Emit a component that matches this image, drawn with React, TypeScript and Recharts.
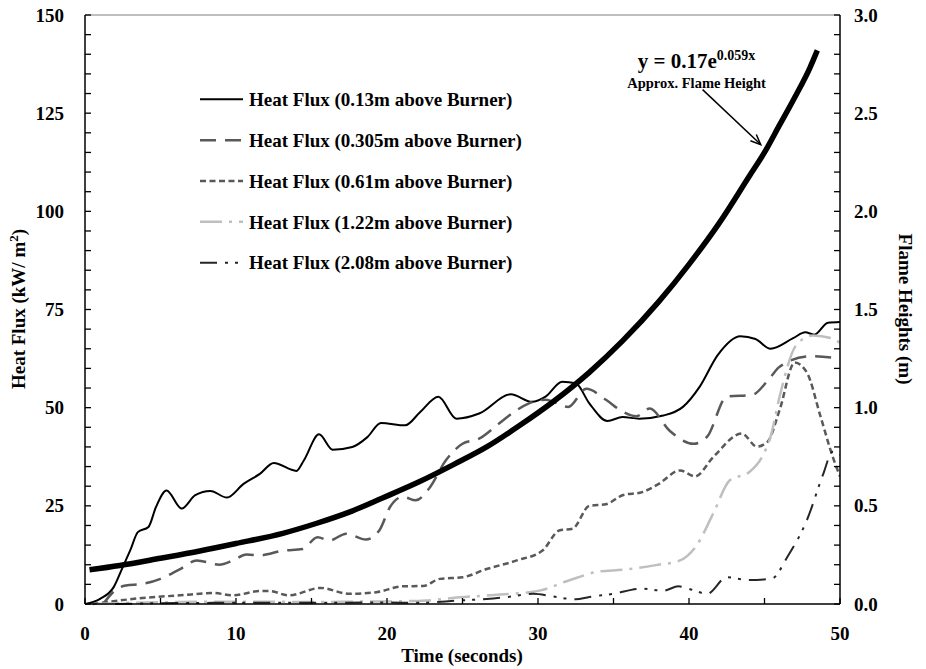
import React from "react";
import { ComposedChart, Line, XAxis, YAxis, ReferenceLine } from "recharts";

// time (s) / heat flux (kW/m2), one pair of arrays per gauge
const tSolid = [0, 1, 1.9, 2.5, 3, 3.5, 4.2, 4.7, 5.4, 6.4, 7.3, 8.3, 9.4, 10.5, 11.6, 12.5, 14, 14.5, 15.5, 16.4, 17.7, 18.7, 19.6, 21.2, 22.2, 23.4, 24.6, 26.1, 28.2, 29.6, 30.5, 31.6, 32.5, 33.4, 34.6, 35.6, 36.7, 38.3, 39.6, 40.7, 41.9, 43.4, 44.4, 45.4, 46.9, 47.7, 48.3, 49.2, 50];
const hf013 = [0, 1.3, 4.3, 9.4, 13.7, 18.3, 19.6, 24.7, 28.9, 24.3, 27.7, 28.8, 27.1, 30.6, 33.2, 35.9, 33.9, 36.6, 43.2, 39.3, 40.0, 42.5, 46.1, 45.5, 48.9, 52.8, 47.2, 48.5, 53.4, 51.5, 52.8, 56.6, 56.2, 51.1, 46.6, 47.6, 47.2, 48.0, 50.2, 55.3, 63.4, 68.2, 67.5, 65.0, 67.7, 69.2, 68.6, 71.6, 71.8];

const t305 = [1.2, 2.1, 2.7, 3.8, 5, 6.3, 7.4, 8.9, 9.8, 10.7, 11.6, 13.1, 14.4, 15.4, 16.2, 17.3, 18.6, 19.5, 20.2, 21.05, 21.9, 22.8, 23.9, 25, 26.1, 27.4, 28.6, 29.4, 30.5, 32, 33.2, 34.5, 35.6, 36.5, 37.4, 38.7, 40.3, 41.2, 42.5, 44.2, 45.4, 46, 48, 50];
const hf305 = [0, 3.8, 4.7, 5.1, 6.4, 8.9, 11.1, 10.0, 11.1, 12.6, 12.4, 13.6, 14.0, 17.0, 16.2, 17.9, 16.4, 18.8, 24.7, 27.3, 26.4, 29.5, 36.6, 40.8, 42.1, 45.9, 49.4, 51.1, 52.0, 50.2, 54.8, 52.0, 49.0, 47.8, 49.8, 44.2, 40.8, 42.6, 52.8, 53.3, 57.8, 60.4, 63.1, 62.5];

const t061 = [0.5, 1.5, 2.3, 4, 6.3, 8.5, 9.8, 11.6, 12.2, 13.5, 15.6, 17.5, 19.3, 21, 22.4, 23.5, 25, 26.6, 28.6, 30.3, 31.4, 32.3, 33.4, 34.5, 35.6, 36.9, 38, 39.4, 40.4, 41.6, 43.5, 44.5, 45.2, 46, 47, 47.8, 48.7, 49.5, 50];
const hf061 = [0, 0.5, 0.9, 1.6, 2.2, 2.8, 2.2, 3.3, 3.3, 2.2, 4.1, 2.6, 3.0, 4.5, 4.6, 6.4, 6.8, 8.9, 11.1, 13.6, 18.7, 19.2, 25.0, 25.4, 27.7, 28.5, 30.6, 34.0, 32.5, 37.4, 43.4, 40.1, 41.3, 49.4, 61.5, 59.0, 47.9, 37.7, 32.5];

const t122 = [0.8, 3, 6, 9, 12, 15, 18, 21, 22.6, 24.8, 27.5, 30.1, 31.9, 34.1, 35.6, 37.8, 39.4, 40.5, 41.6, 42.7, 44, 44.9, 45.4, 46, 47.1, 48.2, 49.5, 50];
const hf122 = [0, 0.3, 0.5, 0.6, 0.6, 0.5, 0.6, 0.7, 0.9, 1.7, 2.4, 3.4, 5.8, 8.3, 8.7, 9.9, 11.1, 14.9, 23.0, 31.5, 33.6, 37.9, 42.6, 52.8, 65.9, 68.4, 67.6, 66.5];

const t208 = [2, 5, 10, 15, 20, 22, 24.8, 26.6, 28, 29.7, 31, 32.5, 33.4, 35, 36.8, 38.3, 39.3, 40.3, 41.2, 42.5, 44, 45.5, 46.5, 47.8, 48.9, 49.5, 50];
const hf208 = [0, 0.2, 0.3, 0.3, 0.4, 0.3, 0.9, 1.3, 1.8, 2.6, 1.9, 1.2, 1.8, 2.6, 3.9, 3.4, 4.5, 3.5, 2.6, 6.8, 6.1, 6.5, 11.9, 21.3, 33.2, 38.8, 38.0];

// approx. flame height (m), right axis
const tFlame = [0.3, 2.3, 5, 7.6, 10, 13.1, 15.3, 17.5, 19.7, 22.2, 24.4, 26.6, 28.8, 31, 33.4, 35.6, 38, 40, 42, 44, 45, 46, 47, 48, 48.5];
const flameH = [0.174, 0.196, 0.233, 0.27, 0.308, 0.36, 0.41, 0.468, 0.54, 0.625, 0.71, 0.8, 0.91, 1.03, 1.18, 1.34, 1.54, 1.73, 1.94, 2.18, 2.3, 2.44, 2.58, 2.73, 2.82];

const xTicks = [0, 5, 10, 15, 20, 25, 30, 35, 40, 45, 50];
const leftTicks = Array.from({ length: 31 }, (_, i) => i * 5);
const rightTicks = Array.from({ length: 31 }, (_, i) => i / 10);

const pts = (ts: number[], vs: number[]) => ts.map((t, i) => ({ t, v: vs[i] }));

const FONT = "'Liberation Serif', 'Times New Roman', serif";
const txt = { fontFamily: FONT, fontWeight: 700, fontSize: 19, fill: "#000" };

const series = [
  { name: "Heat Flux (0.13m above Burner)", data: pts(tSolid, hf013), color: "#000000", width: 2, dash: undefined },
  { name: "Heat Flux (0.305m above Burner)", data: pts(t305, hf305), color: "#595959", width: 2.5, dash: "16 9" },
  { name: "Heat Flux (0.61m above Burner)", data: pts(t061, hf061), color: "#595959", width: 2.5, dash: "6 3.5" },
  { name: "Heat Flux (1.22m above Burner)", data: pts(t122, hf122), color: "#bfbfbf", width: 2.5, dash: "22 7 3 7" },
  { name: "Heat Flux (2.08m above Burner)", data: pts(t208, hf208), color: "#262626", width: 2, dash: "17 8 3 7 3 8" },
];

function XTick(props: any) {
  const { x, y, payload } = props;
  const major = payload.value % 10 === 0;
  return (
    <g>
      <line x1={x} y1={y} x2={x} y2={y - 6} stroke="#000" strokeWidth={1.3} />
      {major && (
        <text x={x} y={y + 36} textAnchor="middle" style={txt}>
          {payload.value}
        </text>
      )}
    </g>
  );
}

function LeftTick(props: any) {
  const { x, y, payload } = props;
  const major = payload.value % 25 === 0;
  return (
    <g>
      <line x1={x} y1={y} x2={x + 6} y2={y} stroke="#000" strokeWidth={1.3} />
      {major && (
        <text x={x - 21} y={y} dy="0.35em" textAnchor="end" style={txt}>
          {payload.value}
        </text>
      )}
    </g>
  );
}

function RightTick(props: any) {
  const { x, y, payload } = props;
  const major = Math.round(payload.value * 10) % 5 === 0;
  return (
    <g>
      <line x1={x} y1={y} x2={x - 6} y2={y} stroke="#000" strokeWidth={1.3} />
      {major && (
        <text x={x + 14} y={y} dy="0.35em" textAnchor="start" style={txt}>
          {payload.value.toFixed(1)}
        </text>
      )}
    </g>
  );
}

// arrow from the equation label down to the flame-height curve
function ArrowNote(props: any) {
  const { x1, y1, x2, y2 } = props;
  const a = Math.atan2(y2 - y1, x2 - x1);
  const h = 11;
  const p1 = [x2 - h * Math.cos(a - 0.4), y2 - h * Math.sin(a - 0.4)];
  const p2 = [x2 - h * Math.cos(a + 0.4), y2 - h * Math.sin(a + 0.4)];
  return (
    <g>
      <line x1={x1} y1={y1} x2={x2} y2={y2} stroke="#000" strokeWidth={1.5} />
      <polyline points={`${p1[0]},${p1[1]} ${x2},${y2} ${p2[0]},${p2[1]}`} fill="none" stroke="#000" strokeWidth={1.5} />
      <text x={x1 - 6} y={y1 - 22} textAnchor="middle" style={{ ...txt, fontSize: 21 }}>
        y = 0.17e
        <tspan dy={-8} fontSize={14}>
          0.059x
        </tspan>
      </text>
      <text x={x1 - 6} y={y1 - 2} textAnchor="middle" style={{ ...txt, fontSize: 14.5 }}>
        Approx. Flame Height
      </text>
    </g>
  );
}

export default function App() {
  return (
    <div style={{ position: "absolute", left: 0, top: 0, width: 926, height: 669, background: "#fff" }}>
      <ComposedChart width={926} height={669} margin={{ top: 15, right: 0, bottom: 0, left: 0 }}>
        <XAxis
          dataKey="t"
          type="number"
          domain={[0, 50]}
          ticks={xTicks}
          interval={0}
          height={65}
          tickSize={0}
          tickMargin={0}
          tick={<XTick />}
          axisLine={{ stroke: "#000", strokeWidth: 1.5 }}
          allowDataOverflow
        />
        <YAxis
          yAxisId="left"
          type="number"
          domain={[0, 150]}
          ticks={leftTicks}
          interval={0}
          width={85}
          tickSize={0}
          tickMargin={0}
          tick={<LeftTick />}
          axisLine={{ stroke: "#000", strokeWidth: 1.5 }}
        />
        <YAxis
          yAxisId="right"
          orientation="right"
          type="number"
          domain={[0, 3]}
          ticks={rightTicks}
          interval={0}
          width={86}
          tickSize={0}
          tickMargin={0}
          tick={<RightTick />}
          axisLine={{ stroke: "#000", strokeWidth: 1.5 }}
        />
        <ReferenceLine yAxisId="left" y={150} stroke="#7f7f7f" strokeWidth={1} />
        {series.map((s) => (
          <Line
            key={s.name}
            yAxisId="left"
            data={s.data}
            dataKey="v"
            name={s.name}
            type="monotone"
            stroke={s.color}
            strokeWidth={s.width}
            strokeDasharray={s.dash}
            dot={false}
            activeDot={false}
            isAnimationActive={false}
          />
        ))}
        <Line
          yAxisId="right"
          data={pts(tFlame, flameH)}
          dataKey="v"
          name="Approx. Flame Height"
          type="monotone"
          stroke="#000"
          strokeWidth={5.5}
          dot={false}
          activeDot={false}
          isAnimationActive={false}
        />
        <ReferenceLine
          yAxisId="left"
          segment={[
            { x: 40.9, y: 131 },
            { x: 44.75, y: 117 },
          ]}
          ifOverflow="visible"
          shape={<ArrowNote />}
        />
      </ComposedChart>
      <svg width={926} height={669} style={{ position: "absolute", left: 0, top: 0, pointerEvents: "none" }}>
        <text transform="translate(25,309) rotate(-90)" textAnchor="middle" style={txt}>
          Heat Flux (kW/ m
          <tspan dy={-7} fontSize={13}>
            2
          </tspan>
          <tspan dy={7}>)</tspan>
        </text>
        <text transform="translate(899,309) rotate(90)" textAnchor="middle" style={txt}>
          Flame Heights (m)
        </text>
        <text x={462} y={662} textAnchor="middle" style={txt}>
          Time (seconds)
        </text>
        {series.map((s, i) => {
          const cy = 99.3 + i * 40.85;
          return (
            <g key={s.name}>
              <line x1={200} y1={cy} x2={243} y2={cy} stroke={s.color} strokeWidth={s.width} strokeDasharray={s.dash} />
              <text x={249} y={cy} dy="0.35em" style={txt}>
                {s.name}
              </text>
            </g>
          );
        })}
      </svg>
    </div>
  );
}
